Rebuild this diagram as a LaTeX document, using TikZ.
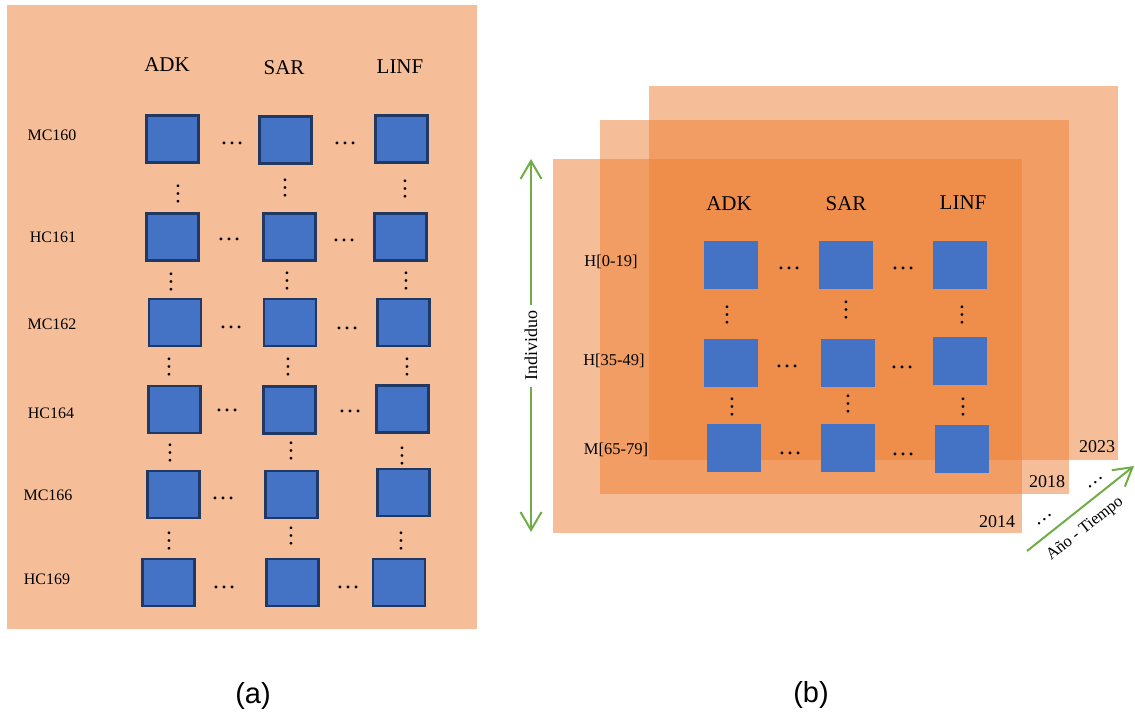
\documentclass[tikz,border=0pt]{standalone}
\usepackage{fontspec}
\setmainfont{Liberation Serif}
\newfontfamily\capsans{Liberation Sans}
\usetikzlibrary{arrows.meta}
\definecolor{panelor}{HTML}{ED7D31}
\definecolor{cellblue}{HTML}{4472C4}
\definecolor{cellrim}{HTML}{1F3864}
\definecolor{axisgreen}{HTML}{70AD47}

\begin{document}
\begin{tikzpicture}[x=1pt,y=-1pt,
  cellA/.style={rectangle, fill=cellblue, draw=cellrim, line width=2.5pt,
                minimum width=52pt, minimum height=47pt, inner sep=0pt},
  cellB/.style={rectangle, fill=cellblue, minimum width=54pt,
                minimum height=48pt, inner sep=0pt},
  head/.style={font=\fontsize{21}{21}\selectfont, inner sep=0pt},
  rowlabA/.style={font=\fontsize{16}{16}\selectfont, inner sep=0pt},
  rowlabB/.style={font=\fontsize{16.5}{16.5}\selectfont, inner sep=0pt},
  hd/.style={font=\fontsize{24}{24}\selectfont, anchor=base, inner sep=0pt, yshift=-1.2pt},
  vd/.style={font=\fontsize{23}{23}\selectfont, anchor=base, inner sep=0pt, rotate=90},
  dd/.style={font=\fontsize{20}{20}\selectfont, anchor=base, inner sep=0pt, rotate=38},
  year/.style={font=\fontsize{18}{18}\selectfont, inner sep=0pt},
  layer/.style={fill=panelor, fill opacity=0.5},
  tip/.tip={Straight Barb[length=18pt,width=21pt]},
  axis/.style={draw=axisgreen, line width=2pt},
  caption/.style={font=\capsans\fontsize{29}{29}\selectfont, inner sep=0pt}
]
\useasboundingbox (0,0) rectangle (1135,713);

% ---------- panel (a) ----------
\fill[panelor!50] (7,5) rectangle (477,629);

\node[head] (aADK)  at (167,65) {ADK};
\node[head] (aSAR)  at (284,68) {SAR};
\node[head] (aLINF) at (400,67) {LINF};

\node[rowlabA] (aR1) at (52,135) {MC160};
\node[rowlabA] (aR2) at (53,237) {HC161};
\node[rowlabA] (aR3) at (52,324) {MC162};
\node[rowlabA] (aR4) at (51,413) {HC164};
\node[rowlabA] (aR5) at (48,495) {MC166};
\node[rowlabA] (aR6) at (47,579) {HC169};

\foreach \n/\x/\y in {
  a11/172.5/139, a12/285.5/140, a13/401.5/139,
  a21/172.5/237, a22/289.5/237, a23/400.5/237,
  a31/175/322.5, a32/290/322.5, a33/403.5/322.5,
  a41/174.5/409.5, a42/289.5/410, a43/402.5/409,
  a51/173.5/494.5, a52/291.5/494.5, a53/403.5/492.5,
  a61/168.5/582.5, a62/292.5/582.5, a63/399/582.5}
  \node[cellA] (\n) at (\x,\y) {};

\foreach \n/\x/\y in {
  ah11/232/143, ah12/345/143,
  ah21/229/239, ah22/344/240,
  ah31/231/327, ah32/347/328,
  ah41/227/410, ah42/350/411,
  ah51/223/498,
  ah61/224/587, ah62/348/587}
  \node[hd] (\n) at (\x,\y) {…};

\foreach \n/\x/\y in {
  av11/179/194, av12/286/188, av13/406/189,
  av21/172/282, av22/288/281, av23/407/281,
  av31/170/367, av32/289/367, av33/408/367,
  av41/171/453, av42/292/451, av43/403/456,
  av51/170/541, av52/292/536, av53/402/541}
  \node[vd] (\n) at (\x,\y) {…};

\node[caption] (capA) at (253,696) {(a)};

% ---------- panel (b): three yearly layers ----------
\fill[layer] (649,86)  rectangle (1118,460);
\fill[layer] (600,120) rectangle (1069,494);
\fill[layer] (553,159) rectangle (1022,533);

\node[year] (y2023) at (1097,447) {2023};
\node[year] (y2018) at (1047,482) {2018};
\node[year] (y2014) at (997,522) {2014};

\node[dd] (ddUp)  at (1096,483) {…};
\node[dd] (ddLow) at (1045,520) {…};

\node[head] (bADK)  at (729,204) {ADK};
\node[head] (bSAR)  at (846,204) {SAR};
\node[head] (bLINF) at (963,203) {LINF};

\node[rowlabB] (bR1) at (611,262) {H[0-19]};
\node[rowlabB] (bR2) at (614,361) {H[35-49]};
\node[rowlabB] (bR3) at (616,450) {M[65-79]};

\foreach \n/\x/\y in {
  b11/731/265, b12/846/265, b13/960/265,
  b21/731/363, b22/848/363, b23/960/361,
  b31/734/448, b32/848/448, b33/962/449}
  \node[cellB] (\n) at (\x,\y) {};

\foreach \n/\x/\y in {
  bh11/789/268, bh12/903/268,
  bh21/787/366, bh22/902/367,
  bh31/790/453, bh32/903/454}
  \node[hd] (\n) at (\x,\y) {…};

\foreach \n/\x/\y in {
  bv11/728/315, bv12/847/310, bv13/963/315,
  bv21/733/407, bv22/849/404, bv23/964/407}
  \node[vd] (\n) at (\x,\y) {…};

% individual axis
\coordinate (indTop) at (531,159);
\coordinate (indBot) at (531,532);
\draw[axis, tip-tip] (indTop) -- node[fill=white, rotate=90, inner xsep=6pt,
  inner ysep=1pt, font=\fontsize{18}{18}\selectfont] (indLab) {Individuo} (indBot);

% time axis
\coordinate (timeStart) at (1027,551);
\coordinate (timeEnd)   at (1134,466);
\draw[axis, -tip] (timeStart) -- (timeEnd);
\node[font=\fontsize{16.5}{16.5}\selectfont, rotate=38.5, inner sep=0pt]
  (timeLab) at (1085,529) {Año - Tiempo};

\node[caption] (capB) at (811,695) {(b)};
\end{tikzpicture}
\end{document}
